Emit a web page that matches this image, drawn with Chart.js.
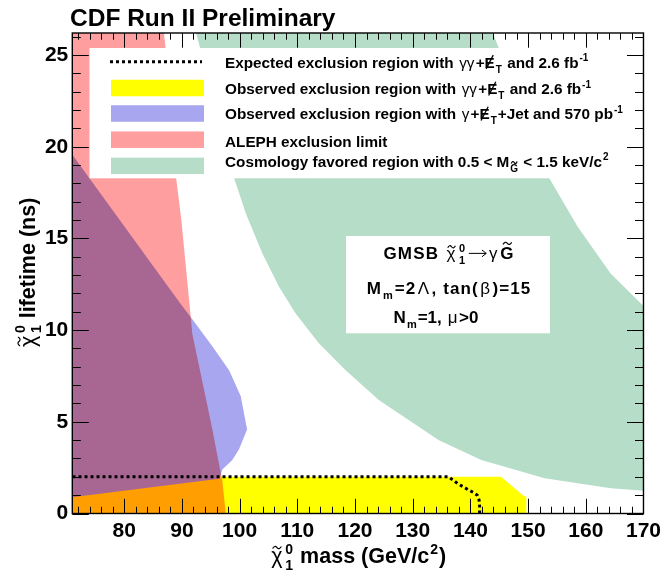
<!DOCTYPE html>
<html>
<head>
<meta charset="utf-8">
<script src="https://cdn.jsdelivr.net/npm/chart.js@4.4.0/dist/chart.umd.min.js"></script>
<style>
  html, body { margin: 0; padding: 0; background: #fff; }
  #wrap { width: 666px; height: 573px; }
</style>
</head>
<body>
<div id="wrap"><canvas id="c" width="666" height="573"></canvas></div>
<script>
// ── DATA (mass in GeV/c2, lifetime in ns) ──
const massTicks = [80, 90, 100, 110, 120, 130, 140, 150, 160, 170];
const lifeTicks = [0, 5, 10, 15, 20, 25];

// observed gg+MET 2.6 fb-1 (yellow)
const obsMass = [70, 70, 145.3, 149.1, 149.7, 149.7];
const obsLife = [0, 2.0, 2.0, 1.0, 0.9, 0];

// expected gg+MET 2.6 fb-1 (dotted)
const expMass = [70, 136.2, 137.1, 137.9, 138.8, 139.6, 140.5, 141.2, 141.5, 141.6, 141.6];
const expLife = [2.0, 2.0, 1.8, 1.6, 1.45, 1.3, 1.15, 1.0, 0.75, 0.4, 0];

// observed g+MET+jet 570 pb-1 (blue)
const jetMass = [70, 89.6, 91.9, 95.3, 98.2, 100.2, 101.1, 101.3, 100.8, 99.9, 98.7, 97.0, 96.5, 70];
const jetLife = [20.0, 11.5, 10.55, 9.1, 7.8, 6.4, 4.9, 4.6, 4.2, 3.5, 2.9, 2.4, 1.9, 0.85];

// ALEPH limit (red)
const alephMass = [70, 86.6, 87.2, 89.0, 89.9, 91.6, 91.8, 93.0, 94.2, 95.3, 96.3, 97.0, 97.6, 70];
const alephLife = [27, 27, 25.3, 18.3, 16.0, 10.5, 9.8, 8.0, 6.2, 4.55, 2.9, 1.8, 0, 0];

// cosmology favoured band (green)
const cosInMass = [92.46, 99.07, 101.08, 103.95, 106.83, 109.71, 113.73, 118.33, 124.12, 134.47, 141.89, 152.87, 164.32, 171];
const cosInLife = [26.2, 18.27, 16.36, 14.18, 12.36, 10.91, 9.28, 7.82, 6.19, 4.01, 2.92, 1.92, 1.37, 1.22];
const cosOutMass = [171, 164.3, 158.6, 153.7, 143.9];
const cosOutLife = [11.0, 13.09, 15.63, 18.27, 26.2];

// ── HELPERS ──
const FF = "'Liberation Sans', Arial, Helvetica, sans-serif";
const font = (sz, w = 'bold') => `${w} ${sz}px ${FF}`;
const pts = (xs, ys) => xs.map((x, i) => ({ x, y: ys[i] }));

const YELLOW = '#ffff00';
const BLUE = 'rgb(168,166,238)';
const RED = 'rgb(255,158,158)';   // drawn with multiply so overlaps mix like the hatch
const GREEN = 'rgb(182,221,200)';

function poly(data, color, order) {
  return { data, showLine: true, fill: 'shape', backgroundColor: color, borderColor: 'transparent',
           borderWidth: 0, pointRadius: 0, tension: 0, order, clip: 0 };
}

function tilde(ctx, cx, ty, hw) {
  ctx.beginPath();
  ctx.moveTo(cx - hw, ty + 1);
  ctx.quadraticCurveTo(cx - hw / 2, ty - 2.6, cx, ty);
  ctx.quadraticCurveTo(cx + hw / 2, ty + 2.6, cx + hw, ty - 1);
  ctx.lineWidth = 1.2; ctx.strokeStyle = '#000'; ctx.stroke();
}

// parts: strings or {t, g, tilde, slash} or {sub, sup, subTilde} or {arrow}
function drawRich(ctx, parts, x, y, sz, align, spacing = 0) {
  const sm = Math.round(sz * 0.64);
  ctx.letterSpacing = spacing + 'px';
  let w = 0;
  const segs = parts.map(p => {
    if (typeof p === 'string') p = { t: p };
    let sw, pad = 0;
    if (p.arrow) sw = sz * 1.2;
    else if (p.t !== undefined) {
      ctx.font = font(sz, p.g ? 'normal' : 'bold');
      pad = p.g ? sz * 0.08 : 0;
      sw = ctx.measureText(p.t).width + 2 * pad;
    } else {
      ctx.font = font(sm);
      sw = Math.max(p.sub ? ctx.measureText(p.sub).width : 0, p.sup ? ctx.measureText(p.sup).width : 0) + 2;
    }
    const s = { p, x: w, w: sw, pad }; w += sw; return s;
  });
  const x0 = align === 'center' ? x - w / 2 : align === 'right' ? x - w : x;
  ctx.textAlign = 'left'; ctx.textBaseline = 'alphabetic'; ctx.fillStyle = '#000';
  segs.forEach(s => {
    const p = s.p, sx = x0 + s.x;
    if (p.arrow) {
      const ay = y - sz * 0.33, a0 = sx + 1.5, a1 = sx + s.w - 1.5;
      ctx.beginPath(); ctx.moveTo(a0, ay); ctx.lineTo(a1, ay);
      ctx.moveTo(a1 - sz * 0.25, ay - sz * 0.2); ctx.lineTo(a1, ay); ctx.lineTo(a1 - sz * 0.25, ay + sz * 0.2);
      ctx.lineWidth = 1; ctx.strokeStyle = '#000'; ctx.stroke();
    } else if (p.t !== undefined) {
      ctx.font = font(sz, p.g ? 'normal' : 'bold');
      ctx.fillText(p.t, sx + s.pad, y);
      if (p.tilde) tilde(ctx, sx + s.w / 2, y - sz * (p.g ? 0.72 : 0.92), s.w * 0.3);
      if (p.slash) {
        ctx.beginPath(); ctx.moveTo(sx + s.w * 0.15, y + sz * 0.08); ctx.lineTo(sx + s.w * 0.85, y - sz * 0.82);
        ctx.lineWidth = 1.3; ctx.strokeStyle = '#000'; ctx.stroke();
      }
    } else {
      ctx.font = font(sm);
      if (p.sup) ctx.fillText(p.sup, sx + 1, y - sz * 0.42);
      if (p.sub) {
        ctx.fillText(p.sub, sx + 1, y + sz * 0.32);
        if (p.subTilde) tilde(ctx, sx + 1 + (s.w - 2) / 2, y + sz * 0.32 - sm * 0.9, s.w * 0.3);
      }
    }
  });
  ctx.letterSpacing = '0px';
}

const MET = [{ t: 'E', slash: true }, { sub: 'T' }];
const legendRows = [
  { kind: 'line', parts: ['Expected exclusion region with ', { t: 'γγ', g: true }, '+', ...MET, ' and 2.6 fb', { sup: '-1' }] },
  { kind: 'box', color: YELLOW, parts: ['Observed exclusion region with ', { t: 'γγ', g: true }, '+', ...MET, ' and 2.6 fb', { sup: '-1' }] },
  { kind: 'box', color: BLUE, parts: ['Observed exclusion region with ', { t: 'γ', g: true }, '+', ...MET, '+Jet and 570 pb', { sup: '-1' }] },
  { kind: 'box', color: RED, parts: ['ALEPH exclusion limit'] },
  { kind: 'box', color: GREEN, parts: ['Cosmology favored region with 0.5 < M', { sub: 'G', subTilde: true }, ' < 1.5 keV/c', { sup: '2' }] },
];
const legendY = [61.7, 88, 113.5, 139.7, 165.8];
const textY = [67.7, 94.3, 119.3, 146.7, 166.7];

const CHI = [{ t: 'χ', g: true, tilde: true }, { sub: '1', sup: '0' }];

// multiply blend for the ALEPH fill (dataset index 3), set right after the blue one is drawn
const blend = {
  id: 'blend',
  afterDatasetDraw(chart, args) {
    if (args.index === 2) chart.ctx.globalCompositeOperation = 'multiply';
    if (args.index === 3) chart.ctx.globalCompositeOperation = 'source-over';
  }
};

const decor = {
  id: 'decor',
  afterDatasetsDraw(chart) {
    const ctx = chart.ctx, ca = chart.chartArea;
    const xs = chart.scales.x, ys = chart.scales.y;
    ctx.save();
    ctx.globalCompositeOperation = 'source-over';
    // white boxes
    ctx.fillStyle = '#fff';
    ctx.fillRect(89.5, 48, 535, 130.3);
    ctx.fillRect(346, 236, 204, 97.3);

    // ticks
    ctx.strokeStyle = '#000'; ctx.lineWidth = 1;
    ctx.beginPath();
    for (let v = 72; v <= 170; v += 2) {
      const px = Math.round(xs.getPixelForValue(v)) + 0.5;
      const len = v % 10 === 0 ? 14.7 : 6.7;
      ctx.moveTo(px, ca.bottom); ctx.lineTo(px, ca.bottom - len);
      ctx.moveTo(px, ca.top); ctx.lineTo(px, ca.top + len);
    }
    for (let v = 0; v <= 26; v += 1) {
      const py = Math.round(ys.getPixelForValue(v)) + 0.5;
      const len = v % 5 === 0 ? 16.5 : 8.5;
      ctx.moveTo(ca.left, py); ctx.lineTo(ca.left + len, py);
      ctx.moveTo(ca.right, py); ctx.lineTo(ca.right - len, py);
    }
    ctx.stroke();
    ctx.lineWidth = 1.4;
    ctx.strokeRect(ca.left, ca.top, ca.right - ca.left, ca.bottom - ca.top);

    // legend
    legendRows.forEach((r, i) => {
      const y = legendY[i];
      if (r.kind === 'line') {
        ctx.save(); ctx.setLineDash([3, 3]); ctx.lineWidth = 3; ctx.strokeStyle = '#000';
        ctx.beginPath(); ctx.moveTo(110, y); ctx.lineTo(202, y); ctx.stroke(); ctx.restore();
      } else {
        const h = i === 4 ? 16.3 : 16.5;
        ctx.fillStyle = r.color; ctx.fillRect(111, y - h / 2, 93, h);
      }
      drawRich(ctx, r.parts, 225, textY[i], 15.3, 'left');
    });

    // GMSB annotation
    drawRich(ctx, ['GMSB ', ...CHI, { arrow: true }, { t: 'γ', g: true }, { t: 'G', tilde: true }], 449, 259, 17, 'center', 1.2);
    drawRich(ctx, ['M', { sub: 'm' }, '=2', { t: 'Λ', g: true }, ', tan(', { t: 'β', g: true }, ')=15'], 449, 294, 17, 'center', 1.1);
    drawRich(ctx, ['N', { sub: 'm' }, '=1, ', { t: 'μ', g: true }, '>0'], 436, 322.5, 17, 'center');

    // title
    ctx.font = font(24.5); ctx.fillStyle = '#000'; ctx.textAlign = 'left'; ctx.textBaseline = 'alphabetic';
    ctx.fillText('CDF Run II Preliminary', 70, 26);

    // axis titles
    drawRich(ctx, [...CHI, ' mass (GeV/c', { sup: '2' }, ')'], (ca.left + ca.right) / 2, 563, 21.5, 'center');
    ctx.save();
    ctx.translate(27, (ca.top + ca.bottom) / 2);
    ctx.rotate(-Math.PI / 2);
    drawRich(ctx, [...CHI, ' lifetime (ns)'], 0, 7.5, 21.5, 'center');
    ctx.restore();
    ctx.restore();
  }
};

new Chart(document.getElementById('c'), {
  type: 'scatter',
  data: {
    datasets: [
      poly(pts(cosInMass.concat(cosOutMass), cosInLife.concat(cosOutLife)), GREEN, 5),
      poly(pts(obsMass, obsLife), YELLOW, 4),
      poly(pts(jetMass, jetLife), BLUE, 3),
      poly(pts(alephMass, alephLife), RED, 2),
      { data: pts(expMass, expLife), showLine: true, fill: false, borderColor: '#000', borderWidth: 3,
        borderDash: [3, 3], pointRadius: 0, tension: 0, order: 1, clip: 0 },
    ]
  },
  options: {
    responsive: false,
    animation: false,
    events: [],
    layout: { padding: { top: 33, right: 20, left: 0, bottom: 0 } },
    plugins: { legend: { display: false }, tooltip: { enabled: false } },
    scales: {
      x: {
        type: 'linear', min: 71, max: 170,
        grid: { display: false, drawTicks: false },
        border: { display: false },
        afterBuildTicks: s => { s.ticks = massTicks.map(v => ({ value: v })); },
        afterFit: s => { s.height = 59.5; },
        ticks: { color: '#000', padding: 5, maxRotation: 0, autoSkip: false, font: { family: FF, weight: 'bold', size: 21 } }
      },
      y: {
        type: 'linear', min: 0, max: 26.2,
        grid: { display: false, drawTicks: false },
        border: { display: false },
        afterBuildTicks: s => { s.ticks = lifeTicks.map(v => ({ value: v })); },
        afterFit: s => { s.width = 72.3; },
        ticks: { color: '#000', padding: 4, autoSkip: false, font: { family: FF, weight: 'bold', size: 21 } }
      }
    }
  },
  plugins: [blend, decor]
});
</script>
</body>
</html>
